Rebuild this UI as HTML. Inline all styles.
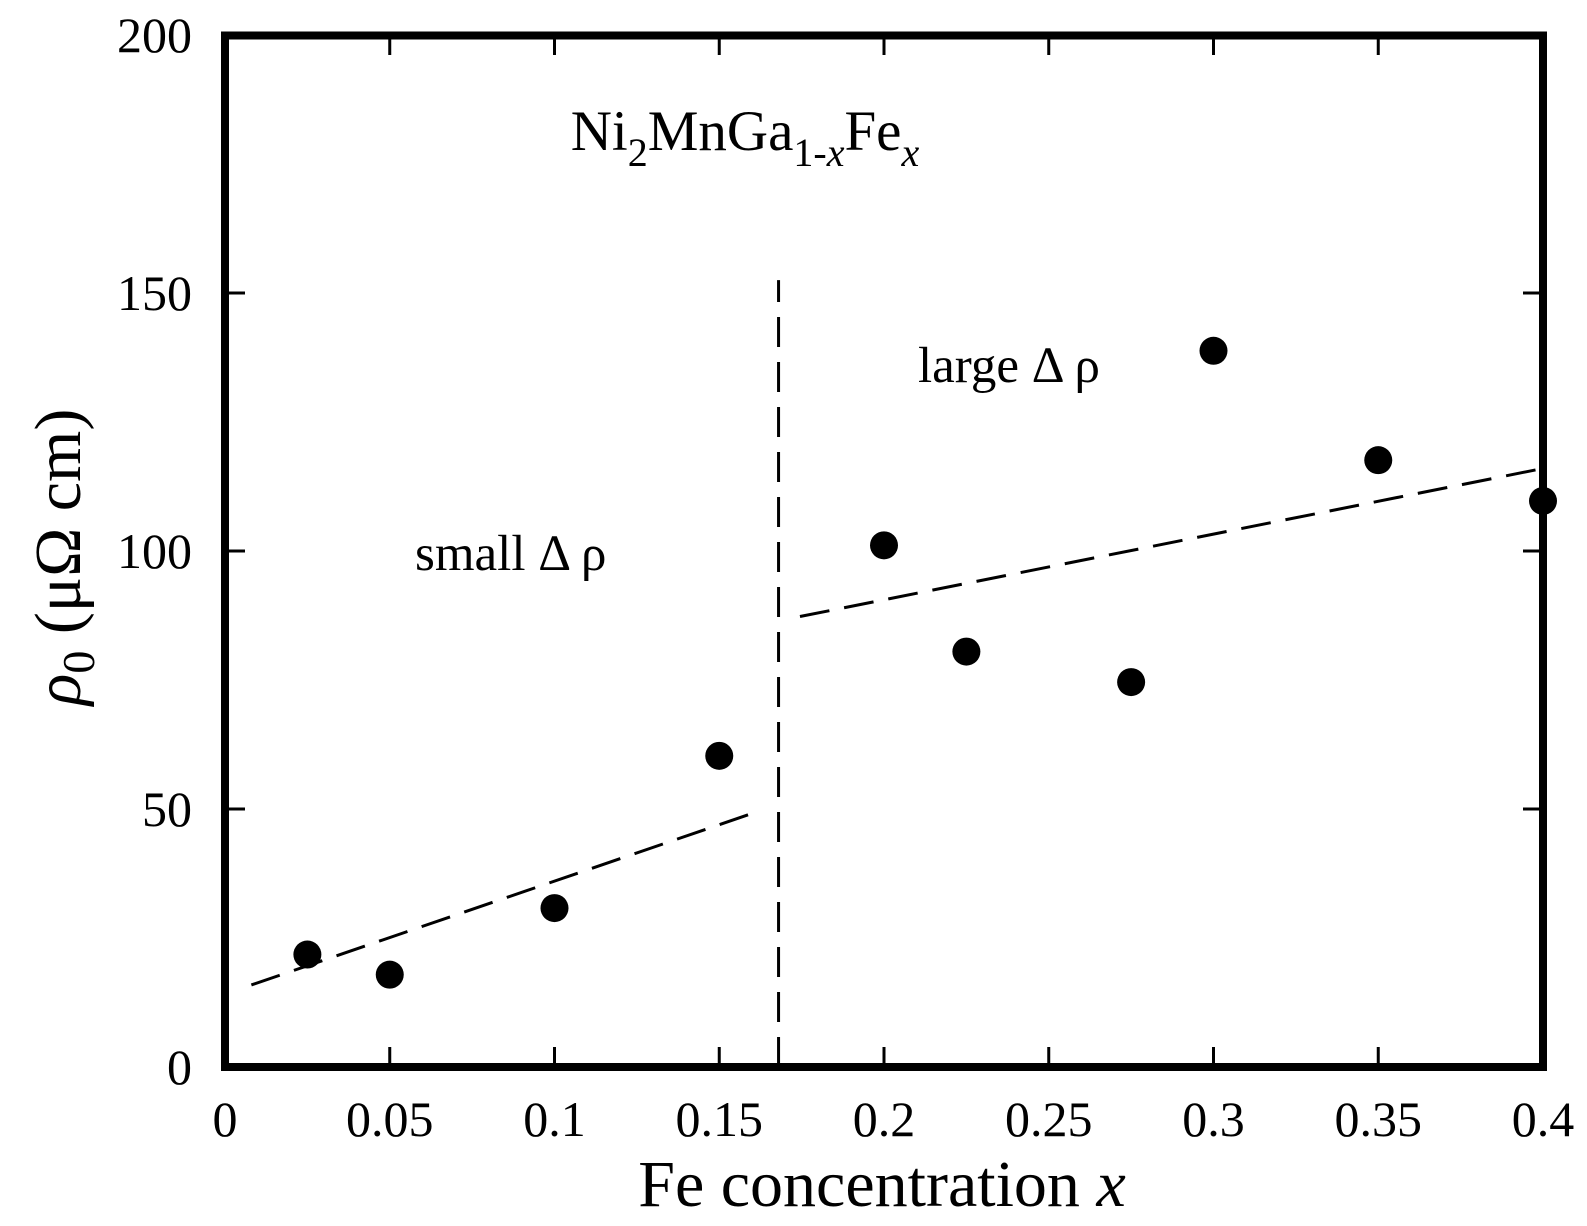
<!DOCTYPE html>
<html><head><meta charset="utf-8"><style>
html,body{margin:0;padding:0;background:#fff;}
svg{display:block;font-family:"Liberation Serif",serif;}
</style></head><body>
<svg id="chart" width="1587" height="1226" viewBox="0 0 1587 1226" xmlns="http://www.w3.org/2000/svg">
<g id="marks"></g>
<rect x="225" y="35.5" width="1318" height="1031.5" fill="none" stroke="#000" stroke-width="8"/>
<text x="745" y="150" font-size="57" text-anchor="middle">Ni<tspan font-size="40" dy="16">2</tspan><tspan dy="-16">MnGa</tspan><tspan font-size="40" dy="16">1-<tspan font-style="italic">x</tspan></tspan><tspan dy="-16">Fe</tspan><tspan font-size="40" dy="16" font-style="italic">x</tspan></text>
<text x="918" y="382" font-size="51">large Δ ρ</text>
<text x="415" y="570" font-size="51">small Δ ρ</text>
<text x="882" y="1206" font-size="66" text-anchor="middle">Fe concentration <tspan font-style="italic">x</tspan></text>
<text transform="translate(80,557) rotate(-90)" font-size="66" text-anchor="middle"><tspan font-style="italic">ρ</tspan><tspan font-size="46" dy="14">0</tspan><tspan dy="-14"> (μΩ cm)</tspan></text>
</svg>
<script>
var xTicks = [0, 0.05, 0.1, 0.15, 0.2, 0.25, 0.3, 0.35, 0.4];
var xTickLabels = ["0", "0.05", "0.1", "0.15", "0.2", "0.25", "0.3", "0.35", "0.4"];
var yTicks = [0, 50, 100, 150, 200];
var yTickLabels = ["0", "50", "100", "150", "200"];
var concentrationX = [0.025, 0.05, 0.1, 0.15, 0.2, 0.225, 0.275, 0.3, 0.35, 0.4];
var resistivityY = [21.8, 17.9, 30.8, 60.3, 101.1, 80.5, 74.6, 138.8, 117.6, 109.7];
var lowFitX = [0.008, 0.1607];
var lowFitY = [15.9, 49.3];
var highFitX = [0.1745, 0.4];
var highFitY = [87.3, 116.0];
var boundaryX = [0.168, 0.168];
var boundaryY = [0, 152.5];

var NS = "http://www.w3.org/2000/svg";
function sx(v){ return 225 + v / 0.4 * 1318; }
function sy(v){ return 1067 - v / 200 * 1032; }
var svg = document.getElementById('chart');
var g = document.getElementById('marks');
function mk(tag, attrs, parent){ var e = document.createElementNS(NS, tag); for (var k in attrs) e.setAttribute(k, attrs[k]); (parent||g).appendChild(e); return e; }

xTicks.forEach(function(t, i){
  var l1 = mk('line', {x1: sx(t), x2: sx(t), y1: 1067, y2: 1047, stroke: '#000', 'stroke-width': 3});
  
  
  var l2 = mk('line', {x1: sx(t), x2: sx(t), y1: 35, y2: 55, stroke: '#000', 'stroke-width': 3});
  
  
  var tx = mk('text', {x: sx(t), y: 1136, 'font-size': 50, 'text-anchor': 'middle'}, svg);
  tx.textContent = xTickLabels[i];
  
  
});
yTicks.forEach(function(t, i){
  var l1 = mk('line', {x1: 225, x2: 245, y1: sy(t), y2: sy(t), stroke: '#000', 'stroke-width': 3});
  
  
  var l2 = mk('line', {x1: 1523, x2: 1543, y1: sy(t), y2: sy(t), stroke: '#000', 'stroke-width': 3});
  
  
  var tx = mk('text', {x: 192, y: sy(t) + 17, 'font-size': 50, 'text-anchor': 'end'}, svg);
  tx.textContent = yTickLabels[i];
  
  
});
function dashed(xs, ys, name){
  var l = mk('line', {x1: sx(xs[0]), y1: sy(ys[0]), x2: sx(xs[1]), y2: sy(ys[1]), stroke: '#000', 'stroke-width': 3, 'stroke-dasharray': '30 15'});
  
  
}
dashed(lowFitX, lowFitY, 'low-x-fit-line');
dashed(highFitX, highFitY, 'high-x-fit-line');
dashed(boundaryX, boundaryY, 'regime-boundary-line');
concentrationX.forEach(function(x, i){
  var c = mk('circle', {cx: sx(x), cy: sy(resistivityY[i]), r: 14, fill: '#000'});
  
  
});
</script>
</body></html>
